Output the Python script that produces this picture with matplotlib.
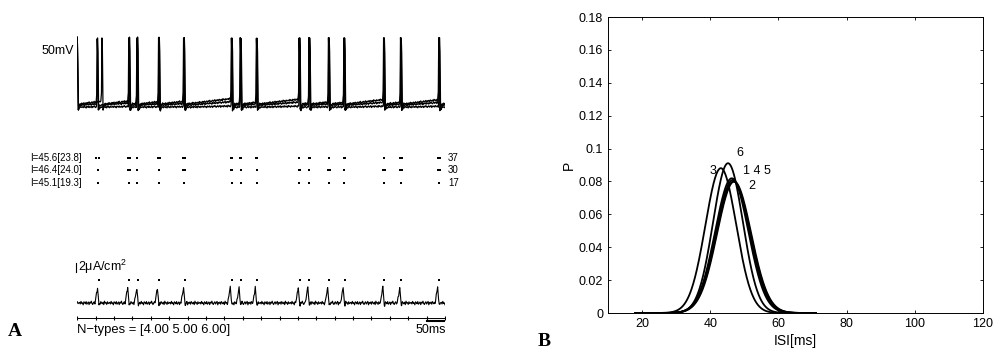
import numpy as np
import matplotlib
matplotlib.use('Agg')
import matplotlib.pyplot as plt
from matplotlib.ticker import FormatStrFormatter

plt.rcParams['font.family'] = ['Liberation Sans', 'DejaVu Sans']
plt.rcParams['mathtext.fontset'] = 'custom'
plt.rcParams['mathtext.rm'] = 'Liberation Sans'

# --- panel A data (ms) ---
spikes_v1 = [67, 141, 163, 222, 290, 420, 444, 488, 604, 631, 684, 726, 834, 880, 984]
spikes_v2 = [55, 142, 164, 223, 291, 421, 445, 489, 605, 632, 685, 727, 835, 881, 985]
spikes_v3 = [54, 140, 162, 221, 289, 419, 443, 487, 603, 630, 683, 725, 833, 879, 983]
v_reset = [-62.5, -66.5, -64.0]      # mV level after each spike
v_slope = [0.055, 0.012, 0.035]      # mV/ms drift between spikes

raster_rows = [
    [52, 58, 138, 142, 163, 220, 224, 288, 292, 418, 422, 442, 446, 486, 490,
     604, 629, 633, 684, 724, 728, 834, 878, 882, 982, 986],
    [55, 139, 143, 163, 222, 288, 292, 418, 422, 444, 488, 602, 606, 631,
     682, 686, 726, 832, 836, 878, 883, 982, 986],
    [55, 141, 163, 222, 290, 420, 444, 488, 604, 631, 684, 726, 834, 880, 984],
]
row_labels = ['I=45.6[23.8]', 'I=46.4[24.0]', 'I=45.1[19.3]']
row_counts = ['37', '30', '17']

events = [59, 141, 166, 222, 293, 420, 444, 488, 605, 631, 685, 727, 835, 881, 984]
current_amp = [3.4, 3.6, 3.3, 3.4, 3.5, 3.6, 3.4, 3.3, 3.5, 3.6, 3.4, 3.5, 3.6, 3.4, 3.5]
jitter = [0.3, -0.5, 0.8, -0.2, 0.1, -0.9, 0.6, 0.2, -0.4, 0.7, -0.6, 0.0, 0.5, -0.8,
          0.4, -0.1, 0.9, -0.3, -0.7, 0.2, 0.6, -0.5, 0.1, 0.8, -0.9, 0.3, -0.2, 0.5,
          -0.6, 0.7, 0.0, -0.4, 0.4, -0.8, 0.9, -0.1, 0.2, -0.7, 0.6, -0.3, 0.1]

# --- panel B data: fitted ISI distributions ---
isi_mean = [46.6, 47.0, 43.1, 46.3, 46.8, 45.2]
isi_sd = [4.93, 4.99, 4.53, 4.87, 4.99, 4.38]
curve_labels = ['3', '6', '1 4 5', '2']

t = np.arange(0, 1000.25, 0.25)
jit_t = np.arange(0, 1000 + 2 * len(jitter), 2.0)


def noise(shift, amp):
    vals = np.resize(np.roll(jitter, shift), len(jit_t))
    return amp * np.interp(t, jit_t, vals)


def voltage(spikes, reset, slope, peak=20.0, ahp=-70.0):
    kt, kv = [0, 3, 6], [peak, ahp, reset]
    last = 6
    for ts in spikes:
        pre = min(reset + slope * (ts - 3 - last), -55)
        kt += [ts - 3, ts - 1.2, ts, ts + 1.2, ts + 3, ts + 7]
        kv += [pre, pre + 12, peak, peak - 15, ahp, reset]
        last = ts + 7
    kt.append(1000)
    kv.append(min(reset + slope * (1000 - last), -55))
    return np.interp(t, kt, kv)


def current():
    out = np.zeros_like(t)
    for ts, a in zip(events, current_amp):
        out += np.interp(t, [ts - 11, ts - 4, ts, ts + 3], [0, a, -0.5, 0], left=0, right=0)
    return out


fig = plt.figure(figsize=(10, 3.59), dpi=100)
X0, W = 77.3 / 1000, 367.7 / 1000


def fy(py):
    return 1 - py / 359


# voltage traces
ax_v = fig.add_axes([X0, fy(112), W, 77 / 359])
for i, sp in enumerate([spikes_v1, spikes_v2, spikes_v3]):
    ax_v.plot(t, voltage(sp, v_reset[i], v_slope[i]) + noise(7 * i, 1.4), color='black', lw=0.9)
ax_v.set_xlim(0, 1000)
ax_v.set_ylim(-72.5, 23.75)
ax_v.axis('off')

# raster
ax_r = fig.add_axes([X0, fy(190), W, 40 / 359])
for k, row in enumerate(raster_rows):
    yv = 3 - k
    ax_r.plot(row, [yv] * len(row), 's', color='black', ms=1.6, mew=0)
    ax_r.text(0.013, yv, row_labels[k], transform=ax_r.get_yaxis_transform(),
              ha='right', va='center', fontsize=7)
    ax_r.text(1.008, yv, row_counts[k], transform=ax_r.get_yaxis_transform(),
              ha='left', va='center', fontsize=7)
ax_r.set_xlim(0, 1000)
ax_r.set_ylim(0.40, 3.68)
ax_r.axis('off')

# current trace
ax_i = fig.add_axes([X0, fy(325), W, 70 / 359])
ax_i.plot(t, current() + noise(3, 0.45), color='black', lw=0.8)
ax_i.plot(events, [5.1] * len(events), 's', color='black', ms=1.6, mew=0)
ticks = np.arange(0, 1001, 50)
ax_i.plot([0, 1000], [-3.4, -3.4], color='black', lw=0.7)
ax_i.plot(ticks, [-3.4] * len(ticks), '|', color='black', ms=2.5, mew=0.8)
ax_i.plot([950, 1000], [-4.0, -4.0], color='black', lw=1.5)
ax_i.plot([-3.5, -3.5], [7, 9], color='black', lw=0.8, clip_on=False)
ax_i.text(2, 8, '2μA/cm$^2$', ha='left', va='center', fontsize=9)
ax_i.set_xlim(0, 1000)
ax_i.set_ylim(-4.89, 10.67)
ax_i.axis('off')

fig.text(0.074, fy(51), '50mV', ha='right', va='center', fontsize=9)
fig.text(0.077, fy(330), 'N−types = [4.00 5.00 6.00]', ha='left', va='center', fontsize=9.4)
fig.text(0.446, fy(330), '50ms', ha='right', va='center', fontsize=9)
fig.text(0.008, fy(331), 'A', ha='left', va='center', fontsize=14,
         family='Liberation Serif', weight='bold')
fig.text(0.538, fy(342), 'B', ha='left', va='center', fontsize=14,
         family='Liberation Serif', weight='bold')

# panel B
ax = fig.add_axes([0.608, fy(313), 0.375, 296 / 359])
x = np.linspace(18, 71, 400)
for m, s in zip(isi_mean, isi_sd):
    p = np.exp(-0.5 * ((x - m) / s) ** 2) / (s * np.sqrt(2 * np.pi))
    ax.plot(x, p, color='black', lw=1.3)
for lab, (lx, ly) in zip(curve_labels, [(40.8, 0.0863), (47.8, 0.0973), (49.6, 0.0863), (51.1, 0.0772)]):
    ax.text(lx, ly, lab, fontsize=9, ha='left' if lab != '3' else 'center', va='center')
ax.set_xlim(10, 120)
ax.set_ylim(0, 0.18)
ax.set_xticks(np.arange(20, 121, 20))
ax.set_yticks(np.arange(0, 0.181, 0.02))
ax.yaxis.set_major_formatter(FormatStrFormatter('%g'))
ax.tick_params(direction='in', top=True, right=True, length=2.5, width=0.6,
               labelsize=9, pad=3.5)
for sp in ax.spines.values():
    sp.set_linewidth(0.7)
ax.set_xlabel('ISI[ms]', fontsize=10, labelpad=3)
ax.set_ylabel('P', fontsize=10, labelpad=2)

fig.savefig('out.png', dpi=100)
